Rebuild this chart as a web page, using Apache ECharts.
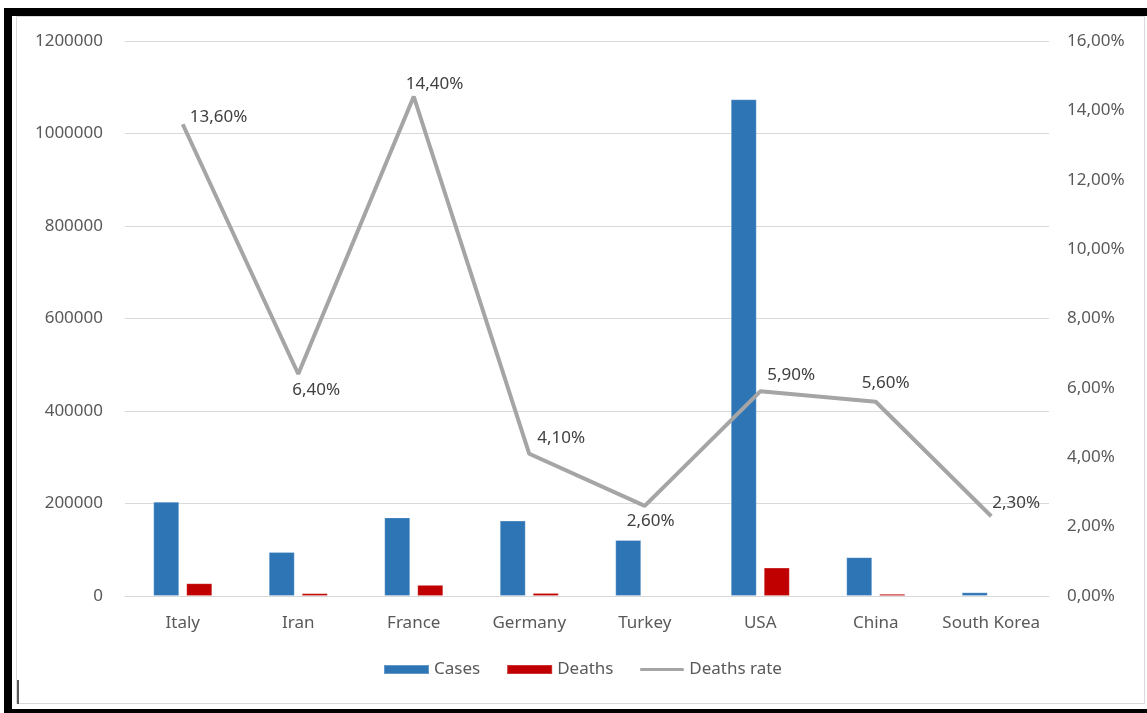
<!DOCTYPE html>
<html>
<head>
<meta charset="utf-8">
<title>Cases, deaths and death rate by country</title>
<script src="https://cdn.jsdelivr.net/npm/echarts@6/dist/echarts.min.js"></script>
<style>
  html, body { margin: 0; padding: 0; background: #ffffff; }
  #chart { width: 1147px; height: 713px; }
</style>
</head>
<body>
<div id="chart"></div>
<script>
// Country names along the category axis
const countries = ['Italy', 'Iran', 'France', 'Germany', 'Turkey', 'USA', 'China', 'South Korea'];
// Confirmed cases (left axis)
const cases = [204000, 95000, 170000, 163000, 121000, 1074000, 84000, 8000];
// Deaths (left axis); no bar shown for Turkey and South Korea
const deaths = [27500, 6000, 24000, 6500, null, 61500, 4700, null];
// Deaths rate in percent (right axis)
const deathRate = [13.6, 6.4, 14.4, 4.1, 2.6, 5.9, 5.6, 2.3];
// Left axis tick values
const leftTicks = [0, 200000, 400000, 600000, 800000, 1000000, 1200000];
// Right axis tick values (percent)
const rightTicks = [0, 2, 4, 6, 8, 10, 12, 14, 16];

// Per-point label placement for the rate line: [dx, dy] from the point
const rateLabelOffsets = [[2, -7], [-11, 16], [-13, -12], [3, -16], [-23, 15], [2, -16], [-19, -19], [-4, -13]];

const FONT = '"Noto Sans", "Open Sans", sans-serif';
const pct = v => v.toFixed(2).replace('.', ',') + '%';

const chart = echarts.init(document.getElementById('chart'), null, { renderer: 'canvas' });

chart.setOption({
  backgroundColor: '#ffffff',
  animation: false,
  textStyle: { fontFamily: FONT },
  grid: { left: 125, right: 98, top: 41, bottom: 117 },
  legend: {
    left: 383,
    top: 661,
    padding: 0,
    itemWidth: 45,
    itemHeight: 9,
    itemGap: 26,
    textStyle: { fontFamily: FONT, fontSize: 17, color: '#595959' },
    data: [
      { name: 'Cases', icon: 'rect' },
      { name: 'Deaths', icon: 'rect' },
      // thick grey stroke centred in the 45x9 legend box
      { name: 'Deaths rate', icon: 'path://M0,0 M0,9 M1,3 L44,3 Q45,4.5 44,6 L1,6 Q0,4.5 1,3 Z' }
    ]
  },
  xAxis: {
    type: 'category',
    data: countries,
    axisLine: { lineStyle: { color: '#d9d9d9', width: 1 } },
    axisTick: { show: false },
    axisLabel: { color: '#595959', fontSize: 17, fontFamily: FONT, margin: 19, interval: 0 }
  },
  yAxis: [
    {
      type: 'value',
      min: leftTicks[0],
      max: leftTicks[leftTicks.length - 1],
      interval: leftTicks[1] - leftTicks[0],
      axisLine: { show: false },
      axisTick: { show: false },
      splitLine: { lineStyle: { color: '#d9d9d9', width: 1 } },
      axisLabel: { color: '#595959', fontSize: 17, fontFamily: FONT, margin: 22, formatter: v => String(v) }
    },
    {
      type: 'value',
      min: rightTicks[0],
      max: rightTicks[rightTicks.length - 1],
      interval: rightTicks[1] - rightTicks[0],
      axisLine: { show: false },
      axisTick: { show: false },
      splitLine: { show: false },
      axisLabel: { color: '#595959', fontSize: 17, fontFamily: FONT, margin: 18, formatter: v => pct(v) }
    }
  ],
  series: [
    {
      name: 'Cases',
      type: 'bar',
      data: cases,
      barWidth: 26,
      barGap: '27%',
      itemStyle: { color: '#2e75b6', borderColor: 'rgba(255,255,255,0.25)', borderWidth: 1 }
    },
    {
      name: 'Deaths',
      type: 'bar',
      data: deaths,
      barWidth: 26,
      itemStyle: { color: '#c00000', borderColor: 'rgba(255,255,255,0.2)', borderWidth: 1 }
    },
    {
      name: 'Deaths rate',
      type: 'line',
      yAxisIndex: 1,
      symbol: 'circle',
      symbolSize: 0,
      showSymbol: true,
      itemStyle: { color: '#a5a5a5' },
      lineStyle: { color: '#a5a5a5', width: 4 },
      data: deathRate.map((v, i) => ({
        value: v,
        label: { position: 'right', distance: 5, offset: rateLabelOffsets[i] }
      })),
      label: {
        show: true,
        color: '#404040',
        fontSize: 17,
        fontFamily: FONT,
        formatter: p => pct(p.value)
      },
      z: 5
    }
  ],
  graphic: [
    // inner light frame
    { type: 'rect', shape: { x: 16.5, y: 16.5, width: 1128, height: 687 }, style: { fill: null, stroke: '#d9d9d9', lineWidth: 1 }, silent: true },
    // short dark mark at the lower left
    { type: 'rect', shape: { x: 17, y: 680, width: 2, height: 24 }, style: { fill: '#595959' }, silent: true },
    // black outer frame: top, left, bottom
    { type: 'rect', shape: { x: 4, y: 8, width: 1143, height: 8 }, style: { fill: '#000000' }, silent: true },
    { type: 'rect', shape: { x: 4, y: 8, width: 8, height: 705 }, style: { fill: '#000000' }, silent: true },
    { type: 'rect', shape: { x: 4, y: 709, width: 1143, height: 4 }, style: { fill: '#000000' }, silent: true }
  ]
});
</script>
</body>
</html>
